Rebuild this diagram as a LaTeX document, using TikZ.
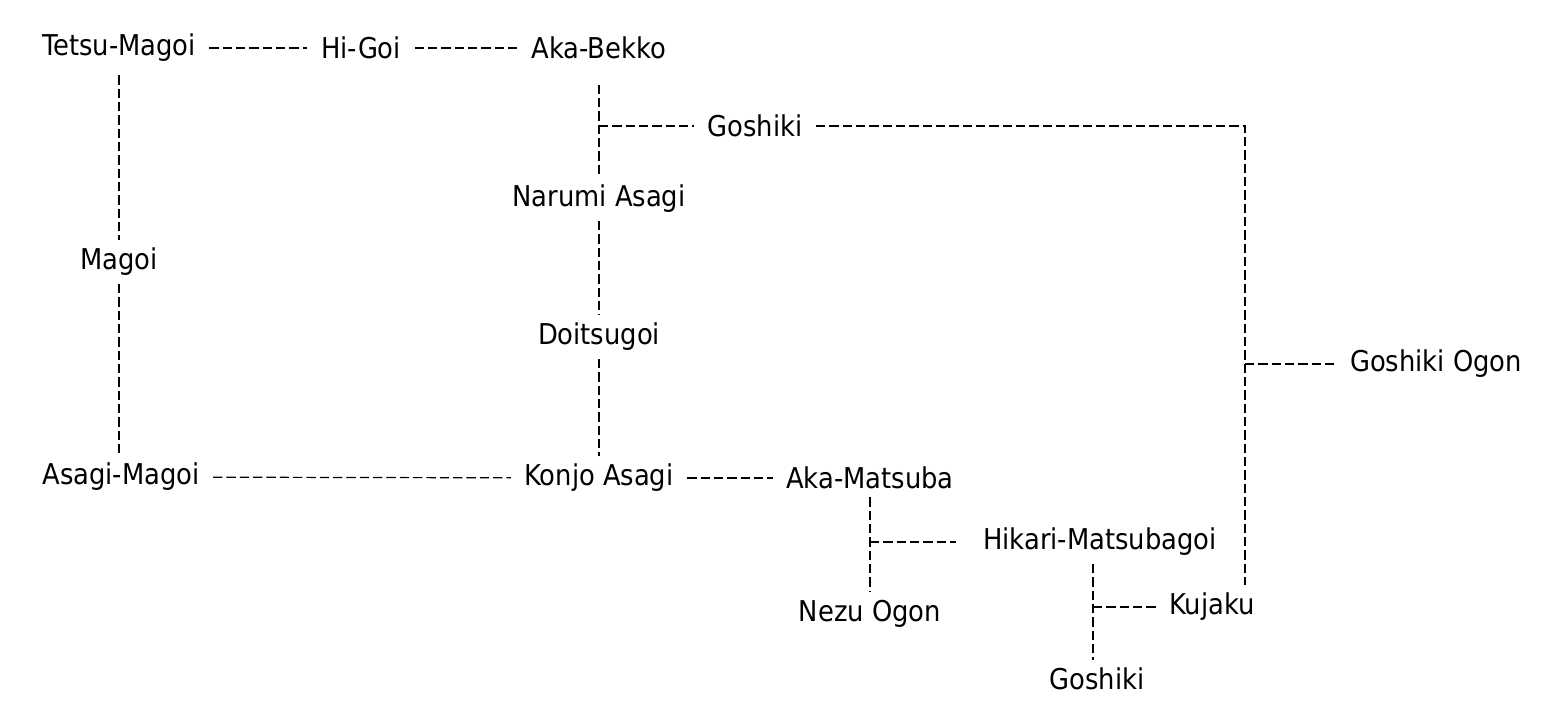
\documentclass[tikz,border=0pt]{standalone}
\usepackage{fontspec}
\setmainfont{DejaVu Sans Condensed}
\usetikzlibrary{positioning}

\begin{document}
\begin{tikzpicture}[
    x=0.75pt, y=-0.75pt,
    koi/.style={inner xsep=10pt, inner ysep=6pt, font=\fontsize{21.5}{25}\selectfont},
    link/.style={line width=0.9pt, dash pattern=on 7pt off 3pt}
]
\useasboundingbox (0,0) rectangle (1562,723);

\node[koi] (tetsu) at (119,48) {Tetsu-Magoi};
\node[koi] (higoi) at (361,48) {Hi-Goi};
\node[koi] (akabekko) at (599,48) {Aka-Bekko};
\node[koi] (goshikiA) at (755,126) {Goshiki};
\node[koi] (narumi) at (599,199) {Narumi Asagi};
\node[koi] (magoi) at (119,262) {Magoi};
\node[koi] (doitsu) at (599,337) {Doitsugoi};
\node[koi] (ogonG) at (1436,364) {Goshiki Ogon};
\node[koi] (asagimagoi) at (121,477) {Asagi-Magoi};
\node[koi] (konjo) at (599,478) {Konjo Asagi};
\node[koi] (matsuba) at (870,478) {Aka-Matsuba};
\node[koi] (hikari) at (1100,542) {Hikari-Matsubagoi};
\node[koi] (nezu) at (870,614) {Nezu Ogon};
\node[koi] (kujaku) at (1212,607) {Kujaku};
\node[koi] (goshikiB) at (1097,679) {Goshiki};

\coordinate (bend) at (1245,126);

% top row
\draw[link] (tetsu) -- (higoi);
\draw[link] (higoi) -- (akabekko);
% left column
\draw[link, shorten <=4pt] (tetsu.south -| 119,0) -- (magoi.north -| 119,0);
\draw[link] (magoi.south -| 119,0) -- (asagimagoi.north -| 119,0);
% middle column
\draw[link, shorten <=13pt] (akabekko) -- (narumi);
\draw[link] (akabekko |- goshikiA) -- (goshikiA);
\draw[link] (narumi) -- (doitsu);
\draw[link] (doitsu) -- (konjo);
% bottom row
\draw[link] (asagimagoi) -- (konjo);
\draw[link] (konjo) -- (matsuba);
\draw[link] (matsuba) -- (nezu);
\draw[link, shorten >=10pt] (matsuba |- hikari) -- (hikari);
\draw[link] (hikari.south -| 1093,0) -- (goshikiB.north -| 1093,0);
\draw[link] (kujaku -| 1093,0) -- (kujaku);
% right side
\draw[link] (goshikiA) -- (bend) -- (bend |- kujaku.north);
\draw[link] (bend |- ogonG) -- (ogonG);
\end{tikzpicture}
\end{document}
